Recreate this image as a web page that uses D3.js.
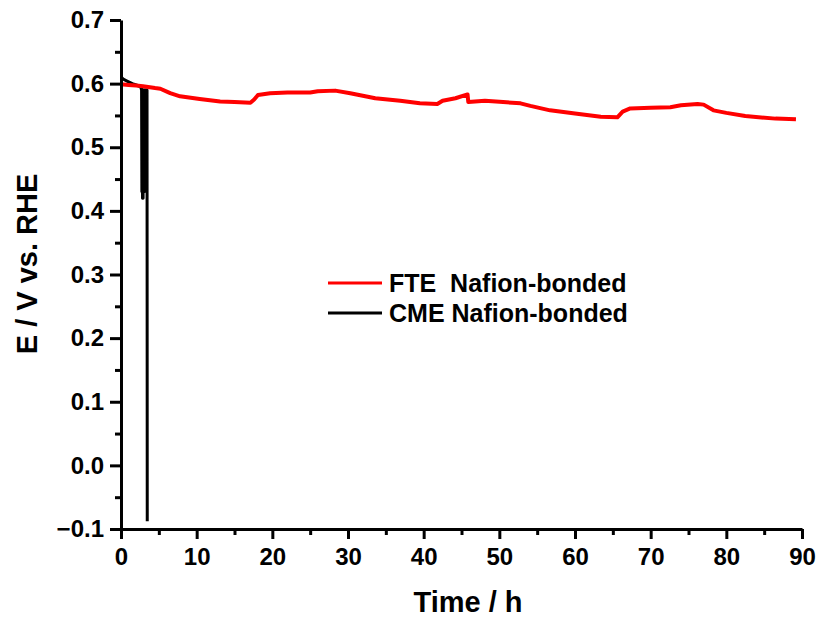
<!DOCTYPE html>
<html>
<head>
<meta charset="utf-8">
<script src="https://cdn.jsdelivr.net/npm/d3@7"></script>
<style>
  body { margin: 0; background: #fff; }
  svg text { font-family: "Liberation Sans", Arial, sans-serif; font-weight: bold; fill: #000; }
</style>
</head>
<body>
<svg id="chart" width="819" height="621"></svg>
<script>
// FTE Nafion-bonded (red)
var fteTime = [0, 1, 2, 2.9, 4.5, 5.2, 6.5, 7.8, 10.4, 13.1, 15, 17.1, 17.6, 18.1, 19.7, 22, 25, 26, 28.3, 30.3,
  33.6, 36.9, 39.5, 41.8, 42.5, 44.2, 45.8, 45.9, 48.1, 50.5, 52.8, 54.1, 56.7, 60, 63.4, 65.6, 66.3, 67.3,
  70, 72.6, 74, 76.2, 77, 78.3, 80, 82.5, 86.5, 89.2];
var fteE = [0.599, 0.598, 0.597, 0.596, 0.593, 0.592, 0.585, 0.580, 0.576, 0.572, 0.571, 0.570, 0.575, 0.582, 0.585, 0.586,
  0.586, 0.588, 0.589, 0.585, 0.577, 0.573, 0.569, 0.568, 0.573, 0.577, 0.583, 0.571, 0.573, 0.571, 0.569, 0.565,
  0.558, 0.553, 0.548, 0.547, 0.556, 0.561, 0.562, 0.563, 0.566, 0.568, 0.567, 0.558, 0.554, 0.549, 0.545, 0.544];

// CME Nafion-bonded (black)
var cmeTime = [0, 0.3, 0.8, 1.5, 2.2, 2.6, 2.72, 2.76, 2.80, 2.84, 2.88, 2.92, 2.96, 3.00, 3.04, 3.08, 3.12,
  3.16, 3.20, 3.24, 3.28, 3.32, 3.36, 3.40, 3.44, 3.47];
var cmeE = [0.611, 0.607, 0.604, 0.600, 0.597, 0.595, 0.59, 0.43, 0.59, 0.42, 0.59, 0.42, 0.59, 0.43, 0.59, 0.43,
  0.59, 0.44, 0.59, 0.44, 0.59, 0.45, 0.59, 0.46, 0.59, -0.088];

var xTicks = [0, 10, 20, 30, 40, 50, 60, 70, 80, 90];
var xMinor = [5, 15, 25, 35, 45, 55, 65, 75, 85];
var yTicks = [-0.1, 0.0, 0.1, 0.2, 0.3, 0.4, 0.5, 0.6, 0.7];
var yMinor = [-0.05, 0.05, 0.15, 0.25, 0.35, 0.45, 0.55, 0.65];

var legendNames = ["FTE  Nafion-bonded", "CME Nafion-bonded"];
var legendColors = ["#ff0000", "#000000"];

var svg = d3.select("#chart");

var x = d3.scaleLinear().domain([0, 90]).range([121, 802]);
var y = d3.scaleLinear().domain([-0.1, 0.7]).range([529, 20]);

var line = d3.line()
  .x(function(d) { return x(d[0]); })
  .y(function(d) { return y(d[1]); });

var cme = cmeTime.map(function(t, i) { return [t, cmeE[i]]; });
var fte = fteTime.map(function(t, i) { return [t, fteE[i]]; });

svg.append("path")
  .datum(cme)
  .attr("d", line)
  .attr("fill", "none")
  .attr("stroke", "#000")
  .attr("stroke-width", 3)
  .attr("stroke-linejoin", "round");

svg.append("path")
  .datum(fte)
  .attr("d", line)
  .attr("fill", "none")
  .attr("stroke", "#ff0000")
  .attr("stroke-width", 4)
  .attr("stroke-linejoin", "round");

// axes
var xAxis = svg.append("g")
  .attr("transform", "translate(0,529)")
  .call(d3.axisBottom(x).tickValues(xTicks).tickSize(10).tickSizeOuter(0).tickPadding(9)
    .tickFormat(d3.format("d")));

var xAxisMinor = svg.append("g")
  .attr("transform", "translate(0,529)")
  .call(d3.axisBottom(x).tickValues(xMinor).tickSize(6).tickSizeOuter(0).tickFormat(""));

var yAxis = svg.append("g")
  .attr("transform", "translate(121,0)")
  .call(d3.axisLeft(y).tickValues(yTicks).tickSize(11).tickSizeOuter(0).tickPadding(6)
    .tickFormat(d3.format(".1f")));

var yAxisMinor = svg.append("g")
  .attr("transform", "translate(121,0)")
  .call(d3.axisLeft(y).tickValues(yMinor).tickSize(6).tickSizeOuter(0).tickFormat(""));

svg.selectAll(".domain").attr("stroke", "#000").attr("stroke-width", 3);
svg.selectAll(".tick line").attr("stroke", "#000").attr("stroke-width", 3);
svg.selectAll(".tick text")
  .style("font-family", "'Liberation Sans', Arial, sans-serif")
  .style("font-weight", "bold")
  .style("font-size", "24px")
  .attr("fill", "#000");
yAxisMinor.select(".domain").remove();
xAxisMinor.select(".domain").remove();

// axis titles
svg.append("text")
  .attr("x", 468)
  .attr("y", 612)
  .attr("text-anchor", "middle")
  .style("font-size", "29px")
  .text("Time / h");

svg.append("text")
  .attr("transform", "translate(37,264) rotate(-90)")
  .attr("text-anchor", "middle")
  .style("font-size", "29px")
  .text("E / V vs. RHE");

// legend
var legend = svg.append("g");
legendNames.forEach(function(name, i) {
  var ly = 283 + i * 30;
  legend.append("line")
    .attr("x1", 328).attr("x2", 382)
    .attr("y1", ly).attr("y2", ly)
    .attr("stroke", legendColors[i])
    .attr("stroke-width", 3);
  legend.append("text")
    .attr("x", 389)
    .attr("y", ly + 9)
    .style("font-size", "25px")
    .style("white-space", "pre")
    .attr("xml:space", "preserve")
    .text(name);
});
</script>
</body>
</html>
